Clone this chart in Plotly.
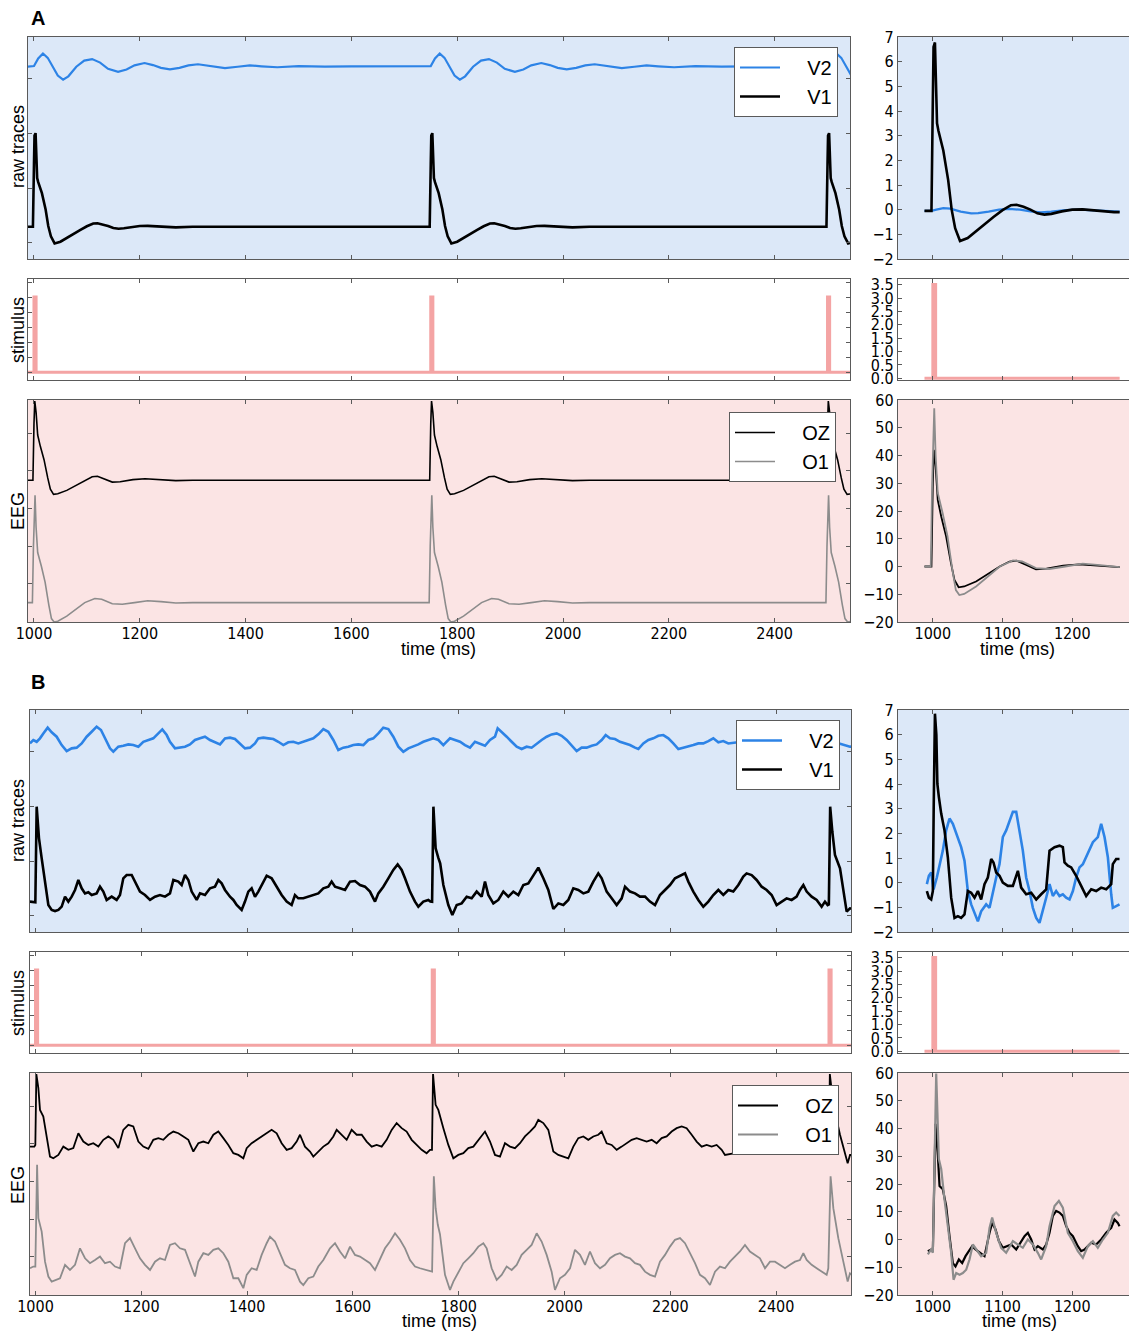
import plotly.graph_objects as go

W, H = 1137, 1332
PAGE_MARGIN = 8   # browser body margin around the plot div

# ---------------- data ----------------
STIM_ONSETS = [1000, 1750, 2500]
STIM_WIDTH = 4
STIM_AMP = 3.5
OVERVIEW_START, OVERVIEW_END = 988, 2543
ZOOM_START, ZOOM_END = 988, 1268
V2_OFFSET = 11.63     # display offset of V2 in overview panels
OZ_OFFSET = 65.0      # display offset of OZ in overview panels

# Panel A: deterministic responses, (ms after stimulus onset, value)
A_V1 = [(-12, -0.05), (-2, -0.05), (0, 4.5), (1, 6.6), (3, 6.78), (4, 5.5), (5, 4.0), (6, 3.5),
        (8, 3.2), (15, 2.4), (22, 1.2), (27, 0.0), (32, -0.75), (39, -1.27), (50, -1.15),
        (63, -0.84), (75, -0.55), (87, -0.3), (100, -0.02), (112, 0.18), (120, 0.2), (130, 0.12),
        (140, 0.0), (150, -0.15), (160, -0.2), (170, -0.17), (185, -0.07), (200, 0.0), (215, 0.01),
        (230, -0.03), (245, -0.07), (260, -0.1), (268, -0.1), (300, -0.05), (737, -0.05)]
A_V2_ZOOM = [(-12, -0.05), (-2, -0.05), (5, 0.0), (15, 0.06), (25, 0.04), (40, -0.08), (55, -0.15),
             (65, -0.14), (80, -0.08), (95, 0.0), (110, 0.03), (125, 0.0), (140, -0.07), (155, -0.11),
             (170, -0.08), (190, -0.02), (210, 0.0), (230, -0.02), (250, -0.06), (268, -0.08)]
A_V2_OVERVIEW = [(-12, 0.0), (-2, 0.0), (0, 0.05), (8, 0.6), (17, 0.97), (26, 0.65), (36, 0.0),
                 (45, -0.65), (55, -0.95), (65, -0.7), (80, 0.0), (95, 0.45), (110, 0.56), (125, 0.3),
                 (140, -0.15), (159, -0.38), (175, -0.2), (190, 0.1), (209, 0.27), (225, 0.12),
                 (240, -0.08), (257, -0.19), (275, -0.08), (292, 0.1), (310, 0.18), (330, 0.05),
                 (345, -0.05), (361, -0.1), (385, 0.0), (408, 0.1), (430, 0.03), (460, -0.04),
                 (500, 0.04), (550, 0.0), (600, 0.02), (737, 0.0)]
A_OZ = [(-12, 0), (-2, 0), (0, 30), (1.5, 42), (4, 36), (7, 24), (12, 18), (19, 10.9), (26, 1.2),
        (31, -4.8), (37, -7.5), (45, -7.2), (62, -5.4), (81, -2.4), (96, 0), (110, 1.8), (120, 2.1),
        (134, 0.6), (148, -1.0), (163, -0.8), (187, 0.3), (210, 0.8), (234, 0.3), (268, -0.2),
        (300, 0), (737, 0)]
A_O1 = [(-12, 0), (-3, 0), (-1, 30), (2, 57), (4, 40), (7, 26.6), (14, 19.3), (21, 10.9), (28, -1.2),
        (33, -8.5), (38, -10.3), (45, -9.9), (62, -7.2), (81, -3), (96, 0), (115, 2.2), (128, 1.8),
        (148, -0.6), (167, -0.9), (190, 0.0), (215, 1.0), (240, 0.5), (268, -0.2), (300, 0), (737, 0)]

# Panel B: noisy responses, overview (time ms, value)
B_V1_OVERVIEW = [
    (989.6, -0.19), (997.8, -0.24), (999.7, -0.24), (1002.2, 6.74), (1006.6, 4.43), (1011.7, 2.97),
    (1018, 1.27), (1024.3, -0.44), (1030.6, -0.80), (1036.9, -0.88), (1043.2, -0.80), (1049.5, -0.56),
    (1055.8, 0.17), (1062.1, -0.19), (1068.4, 0.17), (1074.7, 0.66), (1081, 1.39), (1087.3, 0.78),
    (1093.6, 0.41), (1099.9, 0.49), (1106.2, 0.29), (1115.6, 0.41), (1121.9, 0.90), (1128.2, 0.54),
    (1134.5, -0.07), (1144, 0.17), (1153.4, -0.07), (1159.7, 0.29), (1166, 1.51), (1172.3, 1.75),
    (1181.8, 1.75), (1188.1, 1.27), (1197.5, 0.54), (1207, 0.29), (1216.5, -0.07), (1225.9, 0.17),
    (1235.3, 0.29), (1244.8, 0.17), (1254.2, 0.41), (1260.6, 1.39), (1270, 1.27), (1276.3, 1.02),
    (1282.6, 1.75), (1288.9, 1.39), (1295.2, 0.54), (1304.7, -0.07), (1311, 0.41), (1320.4, 0.29),
    (1329.9, 0.78), (1339.3, 0.90), (1345.6, 1.39), (1351.9, 1.14), (1358.2, 0.66), (1367.7, 0.17),
    (1374, -0.07), (1380.3, -0.44), (1389.7, -0.80), (1396, -0.19), (1402.3, 0.54), (1408.6, 0.78),
    (1414.9, 0.17), (1421.2, 0.54), (1430.7, 1.27), (1437, 1.70), (1446.4, 1.51), (1455.9, 0.90),
    (1465.3, 0.29), (1474.8, -0.19), (1484.2, -0.44), (1490.5, 0.29), (1496.8, 0.05), (1506.3, 0.05),
    (1515.7, 0.17), (1525.2, 0.29), (1534.6, 0.41), (1544.1, 0.78), (1553.5, 0.90), (1559.8, 1.27),
    (1566.2, 0.90), (1575.6, 0.78), (1585.1, 0.66), (1594.5, 1.27), (1604, 1.31), (1613.4, 1.02),
    (1622.9, 0.90), (1632.3, 0.54), (1641.8, -0.19), (1648.1, 0.41), (1657.5, 0.90), (1667, 1.51),
    (1676.4, 2.12), (1684.6, 2.53), (1692.2, 2.12), (1698.5, 1.51), (1707.9, 0.54), (1717.4, -0.19),
    (1723.7, -0.56), (1733.1, -0.19), (1742.6, -0.07), (1746.4, -0.19), (1749.7, -0.2), (1752.2, 6.74),
    (1756.4, 3.70), (1761.5, 3.0), (1765, 2.6), (1771, 1.02), (1780.4, -0.44), (1788, -1.17),
    (1796.2, -0.44), (1805.6, -0.32), (1815.1, 0.17), (1824.5, 0.05), (1834, 0.54), (1843.4, 0.17),
    (1849.7, 1.27), (1856, 0.29), (1865.5, -0.32), (1874.9, -0.07), (1884.4, 0.54), (1893.8, 0.17),
    (1903.3, 0.54), (1912.7, 0.29), (1922.2, 1.02), (1931.6, 1.14), (1941.1, 1.75), (1950.5, 2.29),
    (1960, 1.51), (1969.4, 0.66), (1978.9, -0.73), (1988.3, -0.32), (1997.8, -0.44), (2007.2, -0.07),
    (2016.7, 0.78), (2026.1, 0.66), (2035.6, 0.41), (2045, 0.54), (2054.5, 1.27), (2063.9, 1.87),
    (2070.3, 1.51), (2079.7, 0.54), (2089.2, 0.05), (2098.6, -0.44), (2108.1, 0.05), (2114.4, 0.90),
    (2123.8, 0.54), (2133.3, 0.41), (2142.7, 0.17), (2152.2, 0.17), (2161.6, -0.19), (2171.1, -0.44),
    (2180.5, 0.29), (2190, 0.66), (2199.4, 1.02), (2208.9, 1.51), (2218.3, 1.70), (2227.8, 1.87),
    (2234.1, 1.27), (2243.5, 0.54), (2253, -0.07), (2262.4, -0.56), (2271.9, -0.19), (2281.3, 0.29),
    (2290.8, 0.66), (2300.2, 0.29), (2309.7, 0.66), (2319.1, 0.54), (2328.6, 1.02), (2338, 1.63),
    (2344.3, 1.87), (2353.8, 1.75), (2363.2, 1.39), (2372.7, 0.90), (2382.1, 0.66), (2391.6, 0.29),
    (2401, -0.44), (2410.5, -0.19), (2419.9, 0.05), (2429.4, -0.07), (2438.8, 0.17), (2445.2, 0.66),
    (2451.5, 1.02), (2457.8, 0.54), (2467.2, 0.17), (2476.7, -0.07), (2486.1, -0.56), (2492.4, -0.19),
    (2497.5, -0.44), (2499.7, -0.4), (2502.2, 6.74), (2506.3, 4.91), (2511.3, 3.21), (2520.8, 2.24),
    (2527.1, 0.54), (2533.4, -0.92), (2539.7, -0.68), (2543, -0.7)]

B_V2_OVERVIEW = [
    (989.6, -0.27), (995.9, -0.02), (1002.2, -0.15), (1008.5, 0.10), (1014.8, 0.46), (1023, 0.88),
    (1030.6, 0.54), (1040, 0.22), (1049.5, -0.39), (1058.9, -0.83), (1068.4, -0.63), (1077.8, -0.58),
    (1087.3, -0.27), (1096.7, 0.22), (1106.2, 0.58), (1115.6, 0.95), (1123.8, 0.71), (1131.4, 0.10),
    (1140.8, -0.63), (1147.1, -0.88), (1156.6, -0.51), (1166, -0.44), (1175.5, -0.34), (1184.9, -0.39),
    (1194.4, -0.51), (1203.8, -0.15), (1213.3, -0.02), (1222.7, 0.10), (1232.2, 0.46), (1239.7, 0.75),
    (1248, 0.34), (1254.2, -0.15), (1263.7, -0.63), (1273.1, -0.58), (1282.6, -0.51), (1292, -0.34),
    (1301.5, -0.02), (1311, 0.10), (1320.4, 0.22), (1329.9, -0.02), (1339.3, -0.19), (1348.8, -0.34),
    (1358.2, 0.10), (1367.7, 0.15), (1377.1, 0.05), (1386.6, -0.27), (1396, -0.63), (1405.5, -0.58),
    (1414.9, -0.27), (1421.2, 0.10), (1430.7, 0.15), (1440.1, 0.10), (1449.6, 0.05), (1459, -0.15),
    (1468.5, -0.39), (1477.9, -0.19), (1487.4, -0.15), (1496.8, -0.27), (1506.3, -0.15), (1515.7, -0.02),
    (1525.2, 0.10), (1534.6, 0.39), (1544.1, 0.78), (1553.5, 0.58), (1563, -0.02), (1572.4, -0.75),
    (1581.9, -0.58), (1591.3, -0.51), (1600.8, -0.39), (1610.2, -0.34), (1619.7, -0.39), (1629.2, -0.02),
    (1638.6, 0.10), (1648.1, 0.46), (1657.5, 0.88), (1667, 0.78), (1676.4, 0.22), (1685.9, -0.51),
    (1695.3, -0.88), (1704.8, -0.63), (1714.2, -0.51), (1723.7, -0.34), (1733.1, -0.15), (1742.6, -0.02),
    (1752, 0.10), (1761.5, -0.02), (1771, -0.39), (1774.1, -0.27), (1783.6, 0.10), (1793, -0.02),
    (1802.5, -0.15), (1811.9, -0.39), (1821.4, -0.58), (1830.8, -0.15), (1840.3, -0.27), (1849.7, -0.44),
    (1859.2, -0.02), (1868.6, 0.22), (1873.7, 0.83), (1881.2, 0.58), (1890.7, 0.22), (1900.1, -0.15),
    (1909.6, -0.51), (1919, -0.68), (1928.5, -0.51), (1937.9, -0.58), (1947.4, -0.27), (1956.8, -0.02),
    (1966.3, 0.22), (1975.7, 0.39), (1985.2, 0.46), (1994.6, 0.29), (2004.1, -0.02), (2013.5, -0.39),
    (2023, -0.83), (2032.4, -0.58), (2041.9, -0.58), (2051.4, -0.44), (2060.8, -0.34), (2070.3, -0.02),
    (2077.8, 0.34), (2086, 0.10), (2095.5, 0.05), (2104.9, -0.15), (2114.4, -0.27), (2123.8, -0.39),
    (2133.3, -0.58), (2139.6, -0.68), (2149, -0.27), (2158.5, -0.02), (2167.9, 0.10), (2177.4, 0.29),
    (2186.8, 0.34), (2196.3, 0.10), (2205.7, -0.27), (2215.2, -0.68), (2224.6, -0.58), (2234.1, -0.51),
    (2243.5, -0.39), (2253, -0.27), (2262.4, -0.27), (2271.9, -0.10), (2281.3, 0.10), (2290.8, -0.19),
    (2300.2, -0.10), (2309.7, -0.27), (2334.9, -0.15), (2360.1, 0.10), (2385.3, 0.34), (2410.5, -0.02),
    (2435.7, -0.34), (2460.9, -0.15), (2486.1, 0.10), (2511.3, -0.19), (2527.1, -0.39), (2539.7, -0.51),
    (2543, -0.5)]

B_OZ_OVERVIEW = [
    (989.6, 3.5), (997.8, 3.5), (999.7, 4.4), (1001.6, 42), (1005.4, 34.6), (1008.5, 23.0), (1014.8, 19.5),
    (1021.1, 8.0), (1027.4, -1.8), (1033.7, -2.7), (1043.2, -0.9), (1052.6, 3.5), (1062.1, 1.8),
    (1071.5, 2.7), (1081, 10.6), (1090.4, 6.2), (1099.9, 4.4), (1109.3, 5.3), (1118.8, 3.5), (1128.2, 7.1),
    (1137.7, 8.9), (1147.1, 7.1), (1156.6, 2.7), (1166, 12.4), (1175.5, 15.1), (1184.9, 14.2),
    (1194.4, 6.2), (1203.8, 3.5), (1213.3, 2.3), (1222.7, 7.1), (1232.2, 8.0), (1241.6, 7.1),
    (1251.1, 9.8), (1260.6, 11.5), (1270, 10.6), (1279.5, 8.9), (1288.9, 7.1), (1298.4, 0.9),
    (1307.8, 5.3), (1317.3, 6.2), (1326.7, 5.3), (1336.2, 9.8), (1345.6, 11.5), (1355.1, 8.0),
    (1364.5, 4.4), (1374, 0.0), (1383.4, -0.9), (1392.9, -2.7), (1399.2, 2.7), (1408.6, 5.3),
    (1418.1, 7.1), (1427.5, 8.9), (1437, 10.6), (1446.4, 12.4), (1455.9, 10.6), (1465.3, 5.3),
    (1474.8, 1.8), (1484.2, 2.7), (1493.7, 6.2), (1500, 9.8), (1509.4, 3.5), (1518.9, 0.9),
    (1525.2, -1.8), (1534.6, 0.9), (1544.1, 3.5), (1553.5, 5.3), (1563, 8.9), (1569.3, 12.4),
    (1578.8, 9.8), (1588.2, 7.1), (1597.6, 12.4), (1607.1, 9.8), (1616.6, 9.8), (1626, 6.2),
    (1635.5, 3.5), (1644.9, 4.4), (1654.4, 3.5), (1663.8, 7.1), (1673.3, 12.4), (1682.7, 16.0),
    (1692.2, 13.3), (1701.6, 11.5), (1711.1, 7.1), (1720.5, 4.4), (1730, 1.8), (1739.4, 0.0),
    (1745.7, 1.8), (1749.5, 1.8), (1751.5, 42), (1756.4, 25.7), (1761.5, 23.0), (1771, 13.3),
    (1780.4, 4.4), (1789.9, -2.7), (1799.3, -0.9), (1808.8, 0.0), (1818.2, 2.7), (1827.7, 3.5),
    (1837.1, 7.1), (1849.7, 11.5), (1859.2, 6.2), (1868.6, -0.9), (1878.1, -1.8), (1887.5, 5.3),
    (1897, 3.5), (1906.4, 2.7), (1915.9, 5.3), (1925.3, 8.9), (1934.8, 11.5), (1944.2, 14.2),
    (1950.5, 17.7), (1960, 16.0), (1969.4, 12.4), (1978.9, 0.9), (1988.3, -0.9), (1997.8, -1.8),
    (2007.2, -2.7), (2016.7, 3.5), (2026.1, 8.0), (2035.6, 8.9), (2045, 7.1), (2054.5, 8.9),
    (2063.9, 9.8), (2070.3, 11.5), (2079.7, 5.3), (2089.2, 4.4), (2098.6, 1.8), (2108.1, 3.5),
    (2117.5, 5.3), (2127, 7.1), (2136.4, 8.0), (2145.9, 7.1), (2155.3, 6.2), (2164.8, 7.1),
    (2174.2, 5.3), (2183.7, 8.0), (2193.1, 8.9), (2202.6, 11.5), (2212, 13.3), (2221.5, 14.2),
    (2230.9, 13.3), (2240.4, 9.8), (2249.8, 6.2), (2259.3, 3.5), (2268.7, 4.4), (2278.2, 3.5),
    (2287.6, 4.4), (2297.1, 1.8), (2303.4, -0.9), (2322.3, 0.0), (2347.5, 0.9), (2372.7, 1.8),
    (2397.9, 2.7), (2423.1, 3.5), (2448.3, 1.8), (2473.5, 2.7), (2495.6, 1.8), (2499.5, 1.8),
    (2501.6, 42), (2508.2, 25.7), (2520.8, 9.8), (2530.2, 0.0), (2535.3, -5.3), (2539.7, -0.9),
    (2543, -1.0)]

B_O1_OVERVIEW = [
    (989.6, 3.9), (995.9, 4.8), (999.7, 4.8), (1003, 58.9), (1005.4, 30.5), (1011.7, 23.4), (1018, 7.4),
    (1024.3, -0.5), (1030.6, -3.2), (1040, -2.3), (1046.3, -1.4), (1055.8, 5.7), (1065.2, 3.0),
    (1074.7, 5.7), (1084.1, 14.5), (1093.6, 9.2), (1103, 6.6), (1112.5, 8.3), (1121.9, 10.1),
    (1131.4, 6.6), (1140.8, 7.4), (1150.3, 4.8), (1159.7, 3.9), (1169.2, 17.2), (1178.6, 19.9),
    (1188.1, 14.5), (1197.5, 9.2), (1207, 5.7), (1216.5, 3.0), (1225.9, 7.4), (1235.3, 9.2),
    (1244.8, 8.3), (1254.2, 16.3), (1263.7, 17.2), (1273.1, 14.5), (1282.6, 13.7), (1292, 6.6),
    (1301.5, -0.5), (1307.8, 7.4), (1317.3, 11.9), (1326.7, 11.0), (1336.2, 13.7), (1345.6, 14.5),
    (1355.1, 11.9), (1364.5, 7.4), (1374, -1.4), (1383.4, -1.4), (1392.9, -6.7), (1399.2, 0.4),
    (1408.6, 3.9), (1418.1, 3.0), (1427.5, 11.0), (1437, 17.2), (1443.3, 20.7), (1452.7, 18.1),
    (1462.2, 11.9), (1471.6, 5.7), (1481.1, 3.9), (1490.5, 3.0), (1500, -3.2), (1506.3, -5.0),
    (1515.7, -1.4), (1525.2, -0.5), (1534.6, 4.8), (1544.1, 8.3), (1556.7, 14.5), (1566.2, 17.2),
    (1575.6, 12.8), (1585.1, 9.2), (1594.5, 15.4), (1604, 11.0), (1613.4, 10.1), (1622.9, 8.3),
    (1632.3, 6.6), (1641.8, 3.0), (1651.2, 9.2), (1660.7, 14.5), (1670.1, 18.1), (1679.6, 22.5),
    (1689, 19.0), (1698.5, 14.5), (1707.9, 8.3), (1717.4, 4.8), (1726.8, 3.9), (1736.3, 3.0),
    (1745.7, 2.1), (1749.7, 2.1), (1753, 52.7), (1756.4, 35.8), (1760.5, 27.0), (1764.6, 22.0),
    (1774.1, 0.4), (1783.6, -7.6), (1789.9, -3.2), (1799.3, 2.1), (1808.8, 6.6), (1818.2, 9.2),
    (1827.7, 11.9), (1837.1, 15.4), (1846.6, 17.2), (1852.9, 14.5), (1862.3, 3.9), (1871.8, -2.3),
    (1881.2, 0.4), (1890.7, 4.8), (1900.1, 3.0), (1909.6, 5.7), (1919, 11.0), (1928.5, 13.7),
    (1937.9, 16.3), (1947.4, 22.5), (1956.8, 18.1), (1966.3, 11.0), (1975.7, 2.1), (1982, -7.6),
    (1991.5, -1.4), (2000.9, 0.4), (2010.4, 3.9), (2019.8, 13.7), (2029.3, 11.0), (2038.7, 5.7),
    (2048.2, 12.8), (2057.6, 6.6), (2067.1, 3.9), (2076.6, 5.7), (2086, 9.2), (2095.5, 11.0),
    (2104.9, 11.9), (2114.4, 10.1), (2123.8, 9.2), (2133.3, 6.6), (2142.7, 5.7), (2152.2, 2.1),
    (2161.6, 0.4), (2171.1, -0.5), (2180.5, 7.4), (2190, 11.0), (2199.4, 15.4), (2208.9, 19.0),
    (2218.3, 19.9), (2227.8, 17.2), (2237.2, 11.9), (2246.7, 6.6), (2256.1, 0.4), (2265.6, -1.4),
    (2275, -5.0), (2284.5, 2.1), (2293.9, 4.8), (2303.4, 3.9), (2312.8, 7.4), (2322.3, 10.1),
    (2331.7, 12.8), (2341.2, 16.3), (2350.6, 12.8), (2360.1, 11.0), (2369.5, 9.2), (2379, 3.9),
    (2388.5, 7.4), (2397.9, 7.4), (2407.4, 5.7), (2416.8, 3.9), (2426.3, 5.7), (2435.7, 7.4),
    (2445.2, 8.3), (2451.5, 11.9), (2457.8, 8.3), (2467.2, 5.7), (2476.7, 3.9), (2486.1, 2.1),
    (2495.6, 0.4), (2498.7, 3.9), (2503, 52.7), (2508.2, 35.8), (2517.6, 19.9), (2527.1, 7.4),
    (2535.3, -3.2), (2539.7, 1.2), (2543, 0.5)]

# Panel B: zoomed window (time ms, value)
B_V1_ZOOM = [
    (991.4, -0.34), (994.3, -0.61), (997.6, -0.68), (1000, -0.34), (1001.2, 3.0), (1003, 6.85),
    (1005, 6.0), (1006.5, 4.0), (1008.6, 3.48), (1012, 2.8), (1016.7, 2.12), (1021.5, 1.03),
    (1026.3, -0.61), (1031.1, -1.43), (1035.9, -1.36), (1040.6, -1.43), (1045.4, -1.29), (1050.2, -0.34),
    (1055, -0.41), (1059.8, -0.61), (1064.6, -0.34), (1069.3, -0.68), (1074.1, -0.06), (1078.9, 0.21),
    (1083.7, 0.96), (1087, 0.82), (1090.9, 0.41), (1095.6, 0.28), (1100.4, 0.0), (1107.6, -0.13),
    (1114.8, -0.13), (1122, 0.48), (1126.7, -0.2), (1133.9, -0.47), (1141.1, -0.41), (1148.3, -0.68),
    (1155.4, -0.47), (1162.6, -0.27), (1167.4, 1.30), (1174.6, 1.44), (1181.7, 1.50), (1186.5, 1.44),
    (1188.9, 0.82), (1193.7, 0.69), (1198.5, 0.62), (1205.6, 0.28), (1212.8, -0.13), (1220, -0.54),
    (1227.2, -0.27), (1234.3, -0.34), (1241.5, -0.20), (1248.7, -0.27), (1255.9, -0.06), (1258.2, 0.75),
    (1263, 0.96), (1267.8, 0.96)]
B_V2_ZOOM = [
    (991.4, -0.06), (994.3, 0.28), (997.6, 0.41), (1001, -0.27), (1005.7, 0.21), (1010.5, 0.82),
    (1014.3, 1.30), (1019.1, 2.12), (1023.9, 2.60), (1028.7, 2.39), (1033.5, 1.98), (1040.6, 1.44),
    (1045.4, 0.89), (1050.2, -0.34), (1055, -0.88), (1059.8, -1.23), (1064.6, -1.57), (1069.3, -1.16),
    (1076.5, -0.88), (1081.3, -1.02), (1086.1, -0.34), (1090.9, 0.21), (1095.6, 0.75), (1100.4, 1.85),
    (1105.2, 2.12), (1110, 2.53), (1114.8, 2.87), (1119.6, 2.87), (1124.3, 2.12), (1129.1, 1.30),
    (1133.9, 0.21), (1138.7, -0.34), (1143.5, -1.02), (1148.3, -1.43), (1153, -1.63), (1157.8, -1.16),
    (1162.6, -0.61), (1167.4, -0.06), (1172.2, -0.54), (1176.9, -0.34), (1181.7, -0.54), (1186.5, -0.47),
    (1191.3, -0.61), (1196.1, -0.68), (1200.9, -0.34), (1205.6, 0.21), (1210.4, 0.62), (1215.2, 0.75),
    (1220, 1.03), (1224.8, 1.30), (1229.6, 1.64), (1236.7, 1.85), (1241.5, 2.39), (1246.3, 1.85),
    (1251.1, 1.03), (1255.9, -0.47), (1258.2, -1.02), (1263, -0.95), (1267.8, -0.88)]
B_OZ_ZOOM = [
    (992.8, -4.2), (997.6, -3.6), (1000, -4.2), (1003.8, 41.7), (1007.2, 30.2), (1009.6, 19.3),
    (1014.3, 18.1), (1019.1, 12.1), (1023.9, 1.2), (1028.7, -8.5), (1032.5, -9.7), (1037.3, -7.2),
    (1042.1, -8.5), (1046.9, -6.0), (1051.6, -4.2), (1056.4, -2.4), (1061.2, -3.6), (1067, -4.8),
    (1074.1, -6.0), (1081.3, 2.4), (1085.1, 6.0), (1089.9, 3.6), (1094.7, -0.6), (1100.4, -3.0),
    (1105.2, -2.4), (1112.4, -1.8), (1119.6, -3.6), (1126.7, -0.6), (1131.5, 1.2), (1136.3, 2.4),
    (1141.1, 0.0), (1145.9, -3.6), (1150.6, -2.4), (1157.8, -3.6), (1162.6, -1.8), (1167.4, 2.4),
    (1172.2, 8.5), (1176.9, 10.3), (1181.7, 9.7), (1186.5, 8.5), (1191.3, 4.8), (1196.1, 2.4),
    (1200.9, 1.2), (1208, -2.4), (1212.8, -4.2), (1217.6, -3.6), (1222.4, -2.4), (1227.2, -1.2),
    (1234.3, -1.8), (1241.5, 0.0), (1248.7, 2.4), (1255.9, 4.2), (1260.6, 7.2), (1265.4, 6.0),
    (1267.8, 4.8)]
B_O1_ZOOM = [
    (992.8, -5.4), (997.6, -3.6), (1000, -4.8), (1004.8, 59.8), (1008.6, 29.0), (1012, 25.4),
    (1016.7, 14.5), (1021.5, 4.8), (1026.3, -4.8), (1029.7, -14.5), (1033.5, -12.1), (1038.3, -12.7),
    (1043, -12.1), (1047.8, -10.9), (1052.6, -7.2), (1057.4, -1.8), (1062.2, -3.6), (1069.3, -6.0),
    (1076.5, -4.8), (1081.3, 4.2), (1085.1, 7.9), (1090.9, 2.4), (1098, -3.0), (1105.2, -4.8),
    (1114.8, -0.6), (1122, -1.8), (1129.1, -3.0), (1136.3, 0.0), (1143.5, -1.8), (1150.6, -4.8),
    (1155.4, -7.2), (1162.6, -2.4), (1167.4, 4.8), (1174.6, 12.1), (1180.8, 13.9), (1186.5, 11.5),
    (1193.7, 2.4), (1200.9, -0.6), (1208, -4.2), (1215.2, -6.6), (1222.4, -2.4), (1229.6, -0.6),
    (1236.7, -3.0), (1243.9, 0.0), (1251.1, 2.4), (1258.2, 8.5), (1263, 9.7), (1267.8, 8.5)]

# ---------------- helpers ----------------
def unzip(pairs, offset=0.0):
    return [p[0] for p in pairs], [p[1] + offset for p in pairs]

def repeat_response(template, onsets, offset=0.0):
    t, v = [], []
    for o in onsets:
        for tau, val in template:
            t.append(o + tau)
            v.append(val + offset)
    return t, v

def zoom_response(template, onset, t_end):
    return [(onset + tau, val) for tau, val in template if onset + tau <= t_end]

def stimulus(onsets, t0, t1):
    t, v = [t0], [0.0]
    for o in onsets:
        t += [o, o, o + STIM_WIDTH, o + STIM_WIDTH]
        v += [0.0, STIM_AMP, STIM_AMP, 0.0]
    t.append(t1)
    v.append(0.0)
    return t, v

# ---------------- colours / styles ----------------
BLUE = "#2d83e6"
GRAY = "#8c8c8c"
STIM_C = "#f4a4a4"
BG_RAW = "#dce8f8"
BG_EEG = "#fbe4e4"
AX_C = "#5a5a5a"
TICK_FONT = dict(family="DejaVu Sans Condensed, DejaVu Sans", size=16, color="black")
LABEL_FONT = dict(family="Liberation Sans, Arial", size=18, color="black")

fig = go.Figure()
layout = {}
shapes = []

def px_x(p):
    return (p - PAGE_MARGIN) / W

def px_y(p):
    return 1 - (p - PAGE_MARGIN) / H

def make_axes(n, xdom_px, ydom_px, xrange, yrange, xticks, yticks, show_x, show_y, bg):
    sx = "" if n == 1 else str(n)
    common = dict(showline=True, linecolor=AX_C, linewidth=1.3, mirror="allticks", ticks="inside",
                  ticklen=4, tickcolor=AX_C, showgrid=False, zeroline=False, automargin=False,
                  tickfont=TICK_FONT)
    xa = dict(domain=[px_x(xdom_px[0]), min(1.0, px_x(xdom_px[1]))], range=xrange, anchor="y" + sx,
              showticklabels=show_x, ticklabelstandoff=-3, **common, **xticks)
    ya = dict(domain=[px_y(ydom_px[1]), px_y(ydom_px[0])], range=yrange, anchor="x" + sx,
              showticklabels=show_y, **common, **yticks)
    layout["xaxis" + sx] = xa
    layout["yaxis" + sx] = ya
    if bg:
        shapes.append(dict(type="rect", xref=f"x{sx} domain", yref=f"y{sx} domain", x0=0, x1=1, y0=0,
                           y1=1, fillcolor=bg, line=dict(width=0), layer="below"))
    return "x" + sx, "y" + sx

LX = dict(tick0=1000, dtick=200)
RX = dict(tick0=1000, dtick=100)
RAW_L_Y = dict(tick0=-1.24, dtick=4)
STIM_L_Y = dict(tick0=0, dtick=0.7)
EEG_L_Y = dict(tick0=10, dtick=20)
RAW_R_Y = dict(tick0=0, dtick=1)
STIM_R_Y = dict(tickvals=[0, 0.5, 1, 1.5, 2, 2.5, 3, 3.5],
                ticktext=["0.0", "0.5", "1.0", "1.5", "2.0", "2.5", "3.0", "3.5"])
EEG_R_Y = dict(tick0=-20, dtick=10)

RIGHT_X = (898, 1137 + PAGE_MARGIN)
R_XRANGE = [950, 950 + (1137 + PAGE_MARGIN - 898) / 0.697]

panels = {
    "A": dict(left_x=(28, 850), rows=((37, 259), (279, 380), (400, 622)), base=1,
              l_xrange=[988.7, 2542.5]),
    "B": dict(left_x=(30, 851), rows=((710, 932), (952, 1053), (1073, 1295)), base=7,
              l_xrange=[989.6, 2541.6]),
}

axes = {}
for key, p in panels.items():
    b = p["base"]
    raw, stim, eeg = p["rows"]
    axes[key] = dict(
        rawL=make_axes(b, p["left_x"], raw, p["l_xrange"], [-2.41, 13.8], LX, RAW_L_Y, False, False, BG_RAW),
        rawR=make_axes(b + 1, RIGHT_X, raw, R_XRANGE, [-2, 7], RX, RAW_R_Y, False, True, BG_RAW),
        stimL=make_axes(b + 2, p["left_x"], stim, p["l_xrange"], [-0.36, 4.34], LX, STIM_L_Y, False, False, None),
        stimR=make_axes(b + 3, RIGHT_X, stim, R_XRANGE, [-0.064, 3.71], RX, STIM_R_Y, False, True, None),
        eegL=make_axes(b + 4, p["left_x"], eeg, p["l_xrange"], [-10.3, 107.6], LX, EEG_L_Y, True, False, BG_EEG),
        eegR=make_axes(b + 5, RIGHT_X, eeg, R_XRANGE, [-20, 60], RX, EEG_R_Y, True, True, BG_EEG),
    )

def line(ax, t, v, color, width, name=None, legend=None):
    fig.add_trace(go.Scatter(x=t, y=v, mode="lines", line=dict(color=color, width=width),
                             xaxis=ax[0], yaxis=ax[1], name=name or "", showlegend=legend is not None,
                             legend=legend or "legend", hoverinfo="skip"))

NB = "\u00a0" * 4

# ---------- Panel A ----------
ax = axes["A"]
t, v = repeat_response(A_V2_OVERVIEW, STIM_ONSETS, V2_OFFSET)
line(ax["rawL"], t, v, BLUE, 2.2, NB + "V2", "legend")
t, v = repeat_response(A_V1, STIM_ONSETS)
line(ax["rawL"], t, v, "black", 2.6, NB + "V1", "legend")
t, v = unzip(zoom_response(A_V2_ZOOM, 1000, ZOOM_END))
line(ax["rawR"], t, v, BLUE, 2.2)
t, v = unzip(zoom_response(A_V1, 1000, ZOOM_END))
line(ax["rawR"], t, v, "black", 2.6)
t, v = stimulus(STIM_ONSETS, OVERVIEW_START, OVERVIEW_END)
line(ax["stimL"], t, v, STIM_C, 3)
t, v = stimulus([1000], ZOOM_START, ZOOM_END)
line(ax["stimR"], t, v, STIM_C, 3)
t, v = repeat_response(A_OZ, STIM_ONSETS, OZ_OFFSET)
line(ax["eegL"], t, v, "black", 1.6, NB + "OZ", "legend2")
t, v = repeat_response(A_O1, STIM_ONSETS)
line(ax["eegL"], t, v, GRAY, 1.6, NB + "O1", "legend2")
t, v = unzip(zoom_response(A_OZ, 1000, ZOOM_END))
line(ax["eegR"], t, v, "black", 1.8)
t, v = unzip(zoom_response(A_O1, 1000, ZOOM_END))
line(ax["eegR"], t, v, GRAY, 1.8)

# ---------- Panel B ----------
ax = axes["B"]
t, v = unzip(B_V2_OVERVIEW, V2_OFFSET)
line(ax["rawL"], t, v, BLUE, 2.6, NB + "V2", "legend3")
t, v = unzip(B_V1_OVERVIEW)
line(ax["rawL"], t, v, "black", 2.6, NB + "V1", "legend3")
t, v = unzip(B_V2_ZOOM)
line(ax["rawR"], t, v, BLUE, 2.6)
t, v = unzip(B_V1_ZOOM)
line(ax["rawR"], t, v, "black", 2.6)
t, v = stimulus(STIM_ONSETS, OVERVIEW_START, OVERVIEW_END)
line(ax["stimL"], t, v, STIM_C, 3)
t, v = stimulus([1000], ZOOM_START, ZOOM_END)
line(ax["stimR"], t, v, STIM_C, 3)
t, v = unzip(B_OZ_OVERVIEW, OZ_OFFSET)
line(ax["eegL"], t, v, "black", 1.8, NB + "OZ", "legend4")
t, v = unzip(B_O1_OVERVIEW)
line(ax["eegL"], t, v, GRAY, 1.8, NB + "O1", "legend4")
t, v = unzip(B_OZ_ZOOM)
line(ax["eegR"], t, v, "black", 2.2)
t, v = unzip(B_O1_ZOOM)
line(ax["eegR"], t, v, GRAY, 2.2)

# ---------- legends ----------
def legend_cfg(x_px, y_px):
    return dict(x=px_x(x_px), y=px_y(y_px), xanchor="right", yanchor="top", bgcolor="white",
                bordercolor=AX_C, borderwidth=1, font=dict(family="Liberation Sans, Arial", size=20,
                color="black"), itemwidth=40, tracegroupgap=0, traceorder="normal")

layout["legend"] = legend_cfg(838, 47)
layout["legend2"] = legend_cfg(836, 412)
layout["legend3"] = legend_cfg(840, 720)
layout["legend4"] = legend_cfg(839, 1085)

# ---------- labels ----------
annotations = []
def ann(text, x_px, y_px, angle=0, font=LABEL_FONT, xanchor="center"):
    annotations.append(dict(text=text, x=px_x(x_px), y=px_y(y_px), xref="paper", yref="paper",
                            showarrow=False, textangle=angle, font=font, xanchor=xanchor,
                            yanchor="middle"))

BOLD = dict(family="Liberation Sans, Arial", size=20, color="black")
ann("<b>A</b>", 29, 18, font=BOLD, xanchor="left")
ann("<b>B</b>", 29, 682, font=BOLD, xanchor="left")
for lbl, y in (("raw traces", 147), ("stimulus", 330), ("EEG", 511),
               ("raw traces", 821), ("stimulus", 1003), ("EEG", 1185)):
    ann(lbl, 18, y, angle=-90)
for x, y in ((438, 649), (1017, 649), (440, 1321), (1019, 1321)):
    ann("time (ms)", x, y)

fig.update_layout(**layout)
fig.update_layout(width=W, height=H, margin=dict(l=0, r=0, t=0, b=0, pad=0, autoexpand=False),
                  paper_bgcolor="white", plot_bgcolor="white", shapes=shapes, annotations=annotations)

fig.write_html("out.html")
